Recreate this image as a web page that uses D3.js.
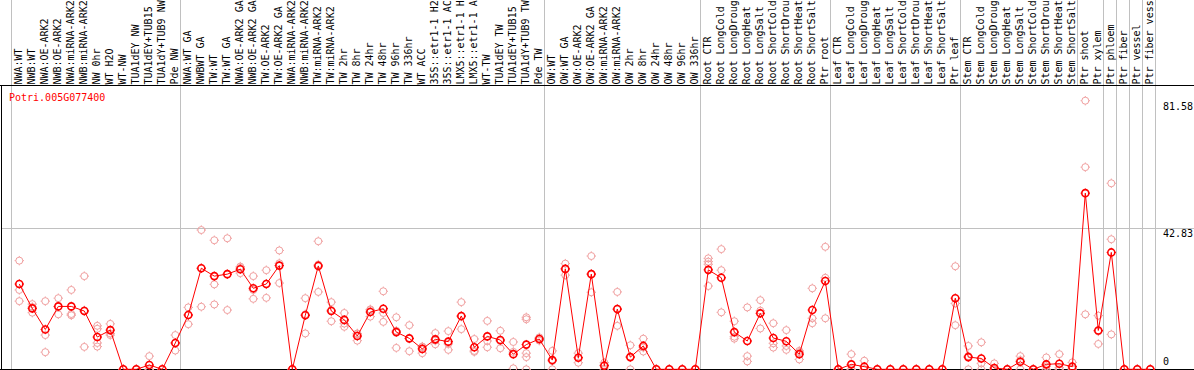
<!DOCTYPE html>
<html>
<head>
<meta charset="utf-8">
<script src="https://cdn.jsdelivr.net/npm/d3@7"></script>
<style>
  html, body { margin: 0; padding: 0; background: #fff; }
  svg { display: block; }
  text { font-family: "DejaVu Sans Mono", monospace; font-size: 10px; }
</style>
</head>
<body>
<svg id="chart" width="1194" height="370"></svg>
<script>
const geneLabel = "Potri.005G077400";

const categories = [
  "NWA:WT","NWB:WT","NWA:OE-ARK2","NWB:OE-ARK2","NWA:miRNA-ARK2","NWB:miRNA-ARK2","NW 0hr","WT H2O","WT-NW","TUA1dEY NW","TUA1dEY+TUB15 NW","TUA1dY+TUB9 NW","Pde NW",
  "NWA:WT GA","NWBWT GA","TW:WT","TW:WT GA","NWA:OE-ARK2 GA","NWB:OE-ARK2 GA","TW:OE-ARK2","TW:OE-ARK2 GA","NWA:miRNA-ARK2","NWB:miRNA-ARK2","TW:miRNA-ARK2","TW:miRNA-ARK2","TW 2hr","TW 8hr","TW 24hr","TW 48hr","TW 96hr","TW 336hr","WT ACC","35S::etr1-1 H2O","35S::etr1-1 ACC","LMX5::etr1-1 H2O","LMX5::etr1-1 ACC","WT-TW","TUA1dEY TW","TUA1dEY+TUB15 TW","TUA1dY+TUB9 TW","Pde TW",
  "OW:WT","OW:WT GA","OW:OE-ARK2","OW:OE-ARK2 GA","OW:miRNA-ARK2","OW:miRNA-ARK2","OW 2hr","OW 8hr","OW 24hr","OW 48hr","OW 96hr","OW 336hr",
  "Root CTR","Root LongCold","Root LongDrought","Root LongHeat","Root LongSalt","Root ShortCold","Root ShortDrought","Root ShortHeat","Root ShortSalt","Ptr root",
  "Leaf CTR","Leaf LongCold","Leaf LongDrought","Leaf LongHeat","Leaf LongSalt","Leaf ShortCold","Leaf ShortDrought","Leaf ShortHeat","Leaf ShortSalt","Ptr leaf",
  "Stem CTR","Stem LongCold","Stem LongDrought","Stem LongHeat","Stem LongSalt","Stem ShortCold","Stem ShortDrought","Stem ShortHeat","Stem ShortSalt",
  "Ptr shoot","Ptr xylem","Ptr phloem","Ptr fiber","Ptr vessel","Ptr fiber vessel"
];

const means = [
  25.9,18.5,12.1,19.1,19.1,17.7,9.8,11.9,0,0,1.3,0,8.0,
  16.5,30.7,28.3,28.9,30.4,24.6,25.9,31.5,0,16.4,31.4,17.7,15.0,10.1,17.4,18.4,11.3,9.4,6.2,9.1,8.4,16.2,6.7,10.0,8.9,4.6,7.5,9.2,
  2.8,30.5,3.5,28.9,1.1,18.3,3.7,7.1,0,0,0,0,
  30.2,27.8,11.3,8.6,17.0,9.5,8.5,4.6,18.0,26.8,
  0,1.5,0.8,0,0,0,0,0,0,21.6,
  3.7,3.3,0.4,0,2.3,0,1.5,1.7,0.8,
  53.5,11.8,35.5,0,0,0
];

const replicates = [
  [33.0,24.1,20.7],[19.8,18.9,17.2],[20.7,10.4,5.2],[21.6,19.0,16.7],[24.1,16.8,16.4],[28.3,17.9,6.8],[13.2,12.3,8.0,6.9],[13.8,10.9,10.4],[0,0,0],[0,0,0],[4.0,0,0],[0,0,0],[10.4,8.0,5.7],
  [18.8,16.5,13.7],[42.3,30.7,19.0],[39.2,25.8,19.7],[39.8,28.9,18.0],[31.2,30.8,29.2],[28.3,24.1,21.4],[30.1,26.0,21.7],[36.1,32.2,26.2],[0,0,0],[21.6,16.7,10.9],[38.9,31.8,23.5],[20.4,18.0,14.6],[17.1,15.0,13.9,12.9],[10.9,10.7,8.7],[18.0,18.2,16.0],[23.7,17.1,14.4],[15.8,11.7,6.5],[13.4,9.3,5.5],[6.9,6.8,4.9],[11.0,8.7,7.6],[11.6,7.7,5.9],[20.4,16.0,12.2],[9.2,5.6,5.3],[14.7,8.6,6.7],[11.7,8.6,6.4],[8.3,5.3,0.3],[15.8,15.2,4.9,3.7,0],[9.7,9.2,8.7],
  [5.6,2.5,0],[32.1,30.5,28.6],[4.9,3.6,2.0],[34.4,29.0,23.4],[2.0,1.3,0],[23.5,18.2,13.2],[7.3,3.8,0],[9.3,6.6,5.4],[0,0,0],[0,0,0],[0,0,0],[0,0,0],
  [33.7,32.7,31.9,25.3],[36.5,30.1,17.3],[14.6,9.9,9.3],[18.8,4.0,2.4],[21.0,17.8,12.4],[14.0,7.9,6.6],[11.9,7.1,5.9],[5.6,5.2,3.0],[24.6,15.5,14.0],[37.2,27.8,15.5],
  [0,0,0],[4.6,0,0],[2.6,0,0],[0,0,0],[0,0,0],[0,0,0],[0,0,0],[0,0,0],[0,0,0],[31.3,20.0,13.4],
  [7.1,4.0,0],[8.2,1.8,0],[1.8,0,0],[0,0,0],[4.0,2.8,0],[0,0,0],[3.6,0.9,0],[4.6,0.5,0],[2.1,0.3,0],
  [81.58,61.4,16.7],[16.3,11.5,7.7],[56.5,39.5,10.6],[0,0,0],[0,0,0],[0,0,0]
];

const yTicks = [0, 42.83, 81.58];
// group boundaries (index of first category in a new block)
const headerSeps = [0, 13, 41, 53, 63, 73, 82, 84, 85, 86, 87, 88];
const plotSeps   = [0, 13, 41, 53, 63, 73, 84, 85, 86, 87, 88];
const maxLabelChars = 14;

const W = 1194, H = 370;
const svg = d3.select("#chart");
svg.append("rect").attr("width", W).attr("height", H).attr("fill", "#fff");

const x = d3.scaleBand().domain(d3.range(categories.length)).range([11, 11 + 13 * categories.length]).padding(0);
const y = d3.scaleLinear().domain([0, 81.58]).range([369.3, 100.7]);
const cx = i => x(i) + 8.3;
const sepX = i => (i < categories.length ? x(i) : x(categories.length - 1) + x.bandwidth()) - 0.5;

const headerBottom = 85.5;
const gray = "#c0c0c0";

// header separators
svg.append("g").selectAll("line").data(headerSeps).join("line")
  .attr("x1", d => Math.round(sepX(d)) + 0.5).attr("x2", d => Math.round(sepX(d)) + 0.5)
  .attr("y1", 0).attr("y2", headerBottom)
  .attr("stroke", gray).attr("stroke-width", 1);

// plot separators
svg.append("g").selectAll("line").data(plotSeps).join("line")
  .attr("x1", d => Math.round(sepX(d)) + 0.5).attr("x2", d => Math.round(sepX(d)) + 0.5)
  .attr("y1", headerBottom).attr("y2", 369.5)
  .attr("stroke", gray).attr("stroke-width", 1);

// gridlines for interior ticks
svg.append("g").selectAll("line").data(yTicks.filter(t => t > 0 && t < 81.58)).join("line")
  .attr("x1", 2).attr("x2", W)
  .attr("y1", d => Math.round(y(d)) + 0.5).attr("y2", d => Math.round(y(d)) + 0.5)
  .attr("stroke", gray).attr("stroke-width", 1);

// header labels (the header is only tall enough for 14 characters)
svg.append("g").selectAll("text").data(categories).join("text")
  .attr("transform", (d, i) => `translate(${x(i) + 10.5},84.6) rotate(-90)`)
  .attr("fill", "#000")
  .text(d => d.length > maxLabelChars ? d.slice(0, maxLabelChars).trimEnd() : d);

// black frame lines
svg.append("line").attr("x1", 0).attr("x2", W).attr("y1", headerBottom).attr("y2", headerBottom).attr("stroke", "#000");
svg.append("line").attr("x1", 0).attr("x2", W).attr("y1", 369.5).attr("y2", 369.5).attr("stroke", "#000");
svg.append("line").attr("x1", 1.5).attr("x2", 1.5).attr("y1", headerBottom).attr("y2", 370).attr("stroke", "#000");

// y tick labels
svg.append("g").selectAll("text").data(yTicks).join("text")
  .attr("x", 1163)
  .attr("y", d => Math.min(y(d) + 9, 365))
  .attr("fill", "#000")
  .text(d => d === 0 ? "0" : d.toFixed(2));

// gene label
svg.append("text").attr("x", 9).attr("y", 101).attr("fill", "#ff0000").text(geneLabel);

function marker(g, cxv, cyv, color, sw) {
  const r = 3.5;
  g.append("circle").attr("cx", cxv).attr("cy", cyv).attr("r", r)
    .attr("fill", "none").attr("stroke", color).attr("stroke-width", sw);
  const t = [[0,-1],[0,1],[-1,0],[1,0]];
  t.forEach(([dx, dy]) => {
    g.append("line")
      .attr("x1", cxv + dx * r).attr("y1", cyv + dy * r)
      .attr("x2", cxv + dx * (r + 1.2)).attr("y2", cyv + dy * (r + 1.2))
      .attr("stroke", color).attr("stroke-width", 1);
  });
}

// replicate points
const repG = svg.append("g");
replicates.forEach((arr, i) => {
  arr.forEach(v => marker(repG, cx(i), y(v), "#f0a0a0", 1));
});

// mean line
const line = d3.line().x((d, i) => cx(i)).y(d => y(d));
svg.append("path").datum(means).attr("d", line)
  .attr("fill", "none").attr("stroke", "#ff0000").attr("stroke-width", 1);

// mean markers
const meanG = svg.append("g");
means.forEach((v, i) => marker(meanG, cx(i), y(v), "#ff0000", 1.6));
</script>
</body>
</html>
